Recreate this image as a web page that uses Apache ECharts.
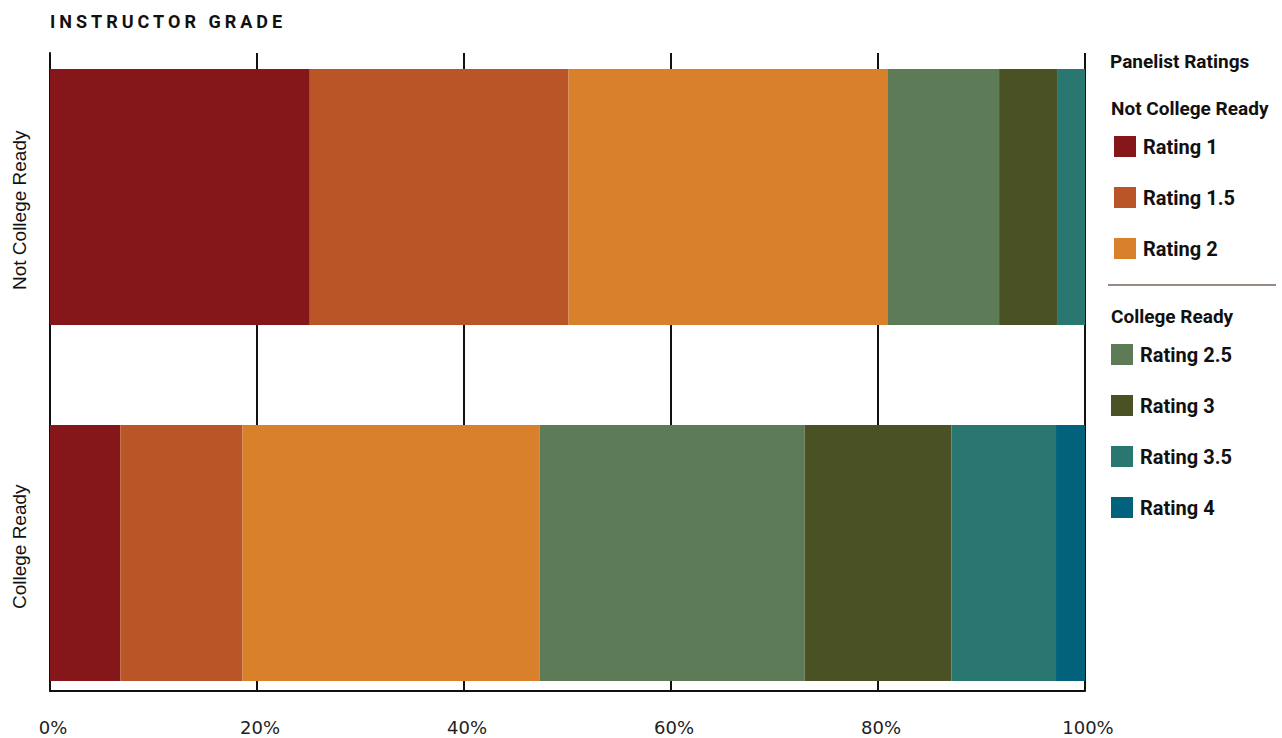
<!DOCTYPE html>
<html>
<head>
<meta charset="utf-8">
<script src="https://cdn.jsdelivr.net/npm/echarts@6/dist/echarts.min.js"></script>
<style>
html,body{margin:0;padding:0;background:#fff;}
#chart{width:1282px;height:738px;}
</style>
</head>
<body>
<div id="chart"></div>
<script>
const categories = ['Not College Ready', 'College Ready'];
const seriesNames = ['Rating 1', 'Rating 1.5', 'Rating 2', 'Rating 2.5', 'Rating 3', 'Rating 3.5', 'Rating 4'];
const rating1  = [25.1, 6.8];
const rating15 = [25.0, 11.8];
const rating2  = [30.8, 28.7];
const rating25 = [10.8, 25.6];
const rating3  = [5.6, 14.2];
const rating35 = [2.7, 10.1];
const rating4  = [0, 2.8];
const xTicks = [0, 20, 40, 60, 80, 100];
const colors = ['#85171a', '#b95527', '#d8802a', '#5c7b56', '#4a5124', '#2a7772', '#02617b'];

const values = [rating1, rating15, rating2, rating25, rating3, rating35, rating4];

const chart = echarts.init(document.getElementById('chart'), null, {renderer: 'svg'});

const legendText = {fontFamily: 'Roboto', fontWeight: 'bold', fontSize: 20, color: '#111', padding: [0, 0, 0, 2]};

const option = {
  animation: false,
  title: {
    text: 'INSTRUCTOR GRADE',
    left: 45, top: 7,
    textStyle: {fontFamily: 'Roboto', fontWeight: 'bold', fontSize: 18, color: '#111'}
  },
  grid: [
    {left: 50, right: 197, top: 53, bottom: 47},
    {left: 50, right: 197, top: 19, bottom: 7},
    {left: 50, right: 197, top: 42, bottom: 23}
  ],
  xAxis: [
    {
      gridIndex: 0, type: 'value', min: xTicks[0], max: xTicks[xTicks.length - 1], interval: 20,
      axisLine: {show: true, lineStyle: {color: '#111', width: 2}},
      axisTick: {show: false},
      splitLine: {show: true, lineStyle: {color: '#111', width: 2}},
      axisLabel: {formatter: '{value}%', margin: 27, fontFamily: 'DejaVu Sans', fontSize: 18, color: '#222', padding: [0, 0, 0, 6]}
    },
    {gridIndex: 1, type: 'value', min: 0, max: 100, show: false},
    {gridIndex: 2, type: 'value', min: 0, max: 100, show: false}
  ],
  yAxis: [
    {
      gridIndex: 0, type: 'category', data: categories, inverse: true,
      axisLine: {show: true, lineStyle: {color: '#111', width: 2}},
      axisTick: {show: false}, axisLabel: {show: false}, splitLine: {show: false}
    },
    {
      gridIndex: 1, type: 'category', data: categories, inverse: true,
      axisLine: {show: false}, axisTick: {show: false}, axisLabel: {show: false}
    },
    {
      gridIndex: 2, type: 'category', data: categories, inverse: true,
      axisLine: {show: false}, axisTick: {show: false},
      axisLabel: {rotate: 90, margin: 21, fontFamily: 'Liberation Sans', fontSize: 19, color: '#111'}
    }
  ],
  legend: [
    {
      data: seriesNames.slice(0, 3), orient: 'vertical', left: 1109, top: 131,
      itemWidth: 22, itemHeight: 21, itemGap: 30, icon: 'rect',
      textStyle: legendText, selectedMode: false
    },
    {
      data: seriesNames.slice(3), orient: 'vertical', left: 1106, top: 339,
      itemWidth: 22, itemHeight: 21, itemGap: 30, icon: 'rect',
      textStyle: legendText, selectedMode: false
    }
  ],
  graphic: [
    {type: 'text', left: 1110, top: 52, style: {text: 'Panelist Ratings', font: 'bold 19px Roboto', fill: '#111'}},
    {type: 'text', left: 1111, top: 99, style: {text: 'Not College Ready', font: 'bold 19px Roboto', fill: '#111'}},
    {type: 'line', shape: {x1: 1108, y1: 285, x2: 1276, y2: 285}, style: {stroke: '#968a84', lineWidth: 2}},
    {type: 'text', left: 1111, top: 307, style: {text: 'College Ready', font: 'bold 19px Roboto', fill: '#111'}}
  ],
  series: seriesNames.map((name, i) => ({
    name: name, type: 'bar', stack: 'total', xAxisIndex: 1, yAxisIndex: 1,
    barWidth: 256, data: values[i], itemStyle: {color: colors[i]}
  }))
};
chart.setOption(option);

function spaceTitle() {
  document.querySelectorAll('#chart text').forEach(t => {
    if (t.textContent === 'INSTRUCTOR GRADE') {
      t.setAttribute('letter-spacing', '4px');
      t.style.letterSpacing = '4px';
    }
  });
}
spaceTitle();
chart.on('finished', spaceTitle);
</script>
</body>
</html>
